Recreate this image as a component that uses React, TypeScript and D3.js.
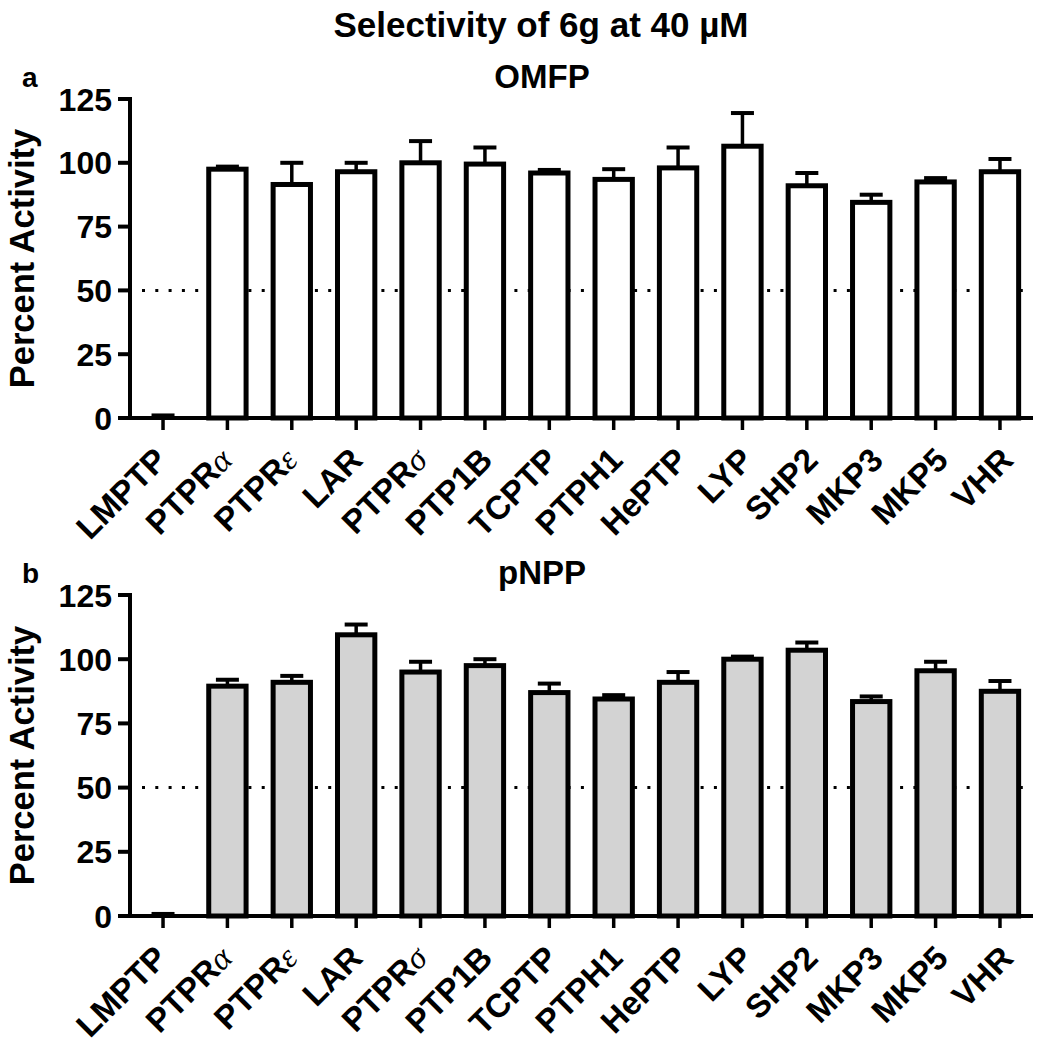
import React from "react";
import * as d3 from "d3";

const categories = ["LMPTP", "PTPRα", "PTPRε", "LAR", "PTPRσ", "PTP1B", "TCPTP", "PTPH1", "HePTP", "LYP", "SHP2", "MKP3", "MKP5", "VHR"];
const omfpValues = [0, 97.5, 91.5, 96.5, 100, 99.5, 96, 93.5, 98, 106.5, 91, 84.5, 92.5, 96.5];
const omfpErrors = [1, 1, 8.5, 3.5, 8.5, 6.5, 1.2, 4, 8, 13, 5, 3, 1.5, 5];
const pnppValues = [0, 89.5, 91, 109.5, 95, 97.5, 87, 84.5, 91, 100, 103.5, 83.5, 95.5, 87.5];
const pnppErrors = [0.8, 2.5, 2.5, 4, 4, 2.5, 3.5, 1.5, 4, 1, 3, 2, 3.5, 4];
const yTicks = [0, 25, 50, 75, 100, 125];
const refLine = 50;
const title = "Selectivity of 6g at 40 µM";

const FONT = "Arial, 'Liberation Sans', Helvetica, sans-serif";

type PanelProps = {
  top: number; bottom: number; values: number[]; errors: number[]; fill: string; letter: string; sub: string;
};

function Label({ text }: { text: string }) {
  const last = text.slice(-1);
  if (/[α-ω]/.test(last)) {
    return (
      <>
        {text.slice(0, -1)}
        <tspan fontFamily="'Liberation Serif', 'DejaVu Serif', serif" fontWeight="normal" fontStyle="italic">{last}</tspan>
      </>
    );
  }
  return <>{text}</>;
}

function Panel({ top, bottom, values, errors, fill, letter, sub }: PanelProps) {
  const x = d3.scaleBand<string>().domain(categories).range([130, 1033]).paddingInner(0.42).paddingOuter(0.223);
  const y = d3.scaleLinear().domain([0, 125]).range([bottom, top]);
  const bw = x.bandwidth();
  const capW = 23;
  return (
    <g>
      <text x={22} y={top - 12} fontFamily={FONT} fontWeight="bold" fontSize={28}>{letter}</text>
      <text x={542} y={top - 11} fontFamily={FONT} fontWeight="bold" fontSize={33} textAnchor="middle">{sub}</text>
      <text transform={`translate(34,${(top + bottom) / 2}) rotate(-90)`} fontFamily={FONT} fontWeight="bold" fontSize={34.5} textAnchor="middle">Percent Activity</text>
      <line x1={142} x2={1023} y1={y(refLine)} y2={y(refLine)} stroke="#000" strokeWidth={3} strokeDasharray="3 10.3" />
      {categories.map((c, i) => {
        const x0 = x(c)!;
        const yv = y(values[i]);
        const ye = y(values[i] + errors[i]);
        const cx = x0 + bw / 2;
        return (
          <g key={c}>
            <line x1={cx} x2={cx} y1={yv} y2={ye} stroke="#000" strokeWidth={3.5} />
            <line x1={cx - capW / 2} x2={cx + capW / 2} y1={ye} y2={ye} stroke="#000" strokeWidth={4} />
            <rect x={x0} y={yv} width={bw} height={Math.max(0, bottom - yv)} fill={fill} stroke="#000" strokeWidth={5} />
          </g>
        );
      })}
      <line x1={130} x2={130} y1={top - 2} y2={bottom + 2} stroke="#000" strokeWidth={4} />
      {yTicks.map((t) => (
        <g key={t}>
          <line x1={118} x2={130} y1={y(t)} y2={y(t)} stroke="#000" strokeWidth={4} />
          <text x={112} y={y(t)} dy="0.36em" textAnchor="end" fontFamily={FONT} fontWeight="bold" fontSize={32}>{t}</text>
        </g>
      ))}
      <line x1={118} x2={1033} y1={bottom} y2={bottom} stroke="#000" strokeWidth={4} />
      {categories.map((c, i) => {
        const cx = x(c)! + bw / 2;
        return (
          <g key={c}>
            <line x1={cx} x2={cx} y1={bottom} y2={bottom + 12} stroke="#000" strokeWidth={3.5} />
            <text transform={`translate(${cx + 6 + i * 0.7},${bottom + 44}) rotate(-45)`} textAnchor="end" fontFamily={FONT} fontWeight="bold" fontSize={33}>
              <Label text={c} />
            </text>
          </g>
        );
      })}
    </g>
  );
}

export default function App() {
  return (
    <svg width={1049} height={1050} style={{ position: "absolute", left: 0, top: 0, background: "#fff" }}>
      <rect width={1049} height={1050} fill="#fff" />
      <text x={541} y={37} textAnchor="middle" fontFamily={FONT} fontWeight="bold" fontSize={35}>{title}</text>
      <Panel top={99} bottom={418} values={omfpValues} errors={omfpErrors} fill="#fff" letter="a" sub="OMFP" />
      <Panel top={595} bottom={916} values={pnppValues} errors={pnppErrors} fill="#d3d3d3" letter="b" sub="pNPP" />
    </svg>
  );
}
